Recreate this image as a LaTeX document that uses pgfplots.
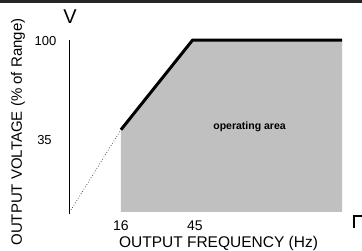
\documentclass[border=0pt]{standalone}
\usepackage{fontspec}
\setmainfont{Liberation Sans}
\usepackage{pgfplots}
\pgfplotsset{compat=1.18}
\definecolor{areagray}{RGB}{192,192,192}
\begin{document}
\begin{tikzpicture}[x=1pt,y=1pt]
\useasboundingbox (0,0) rectangle (362,250);
\begin{axis}[
  at={(69pt,36pt)}, anchor=south west,
  scale only axis, width=273pt, height=174pt,
  xmin=-5, xmax=105.4, ymin=-26, ymax=100,
  axis x line=none, axis y line=left,
  y axis line style={-, line width=0.8pt},
  xtick=\empty, ytick=\empty,
  clip=false,
]
\addplot[fill=areagray, draw=none] coordinates {(16,-24.5) (16,35) (45,100) (105.4,100) (105.4,-24.5)} -- cycle;
\addplot[black, line width=3pt, line join=round] coordinates {(16,35) (45,100) (105.4,100)};
\addplot[black!80, dotted, line width=0.7pt] coordinates {(-4.2,-23.1) (16,35)};
\node[font=\bfseries\fontsize{10.5}{12}\selectfont] at (axis cs:68,37) {operating area};
\end{axis}
\draw[line width=3pt, black!85] (0,248.5) -- (362,248.5);
\draw[line width=2.2pt] (354,22) -- (354,34) -- (362,34);
\node[font=\fontsize{20}{22}\selectfont] at (70,233) {V};
\node[font=\fontsize{13}{15}\selectfont] at (45.5,209) {100};
\node[font=\fontsize{13}{15}\selectfont] at (44.5,110) {35};
\node[inner sep=0pt, font=\fontsize{14}{16}\selectfont] at (121,24.5) {16};
\node[inner sep=0pt, font=\fontsize{14}{16}\selectfont] at (195,24.5) {45};
\node[inner sep=0pt, font=\fontsize{15.5}{17}\selectfont] at (218.5,6.5) {OUTPUT FREQUENCY (Hz)};
\node[font=\fontsize{15}{17}\selectfont, rotate=90] at (18,118) {OUTPUT VOLTAGE (\% of Range)};
\end{tikzpicture}
\end{document}
